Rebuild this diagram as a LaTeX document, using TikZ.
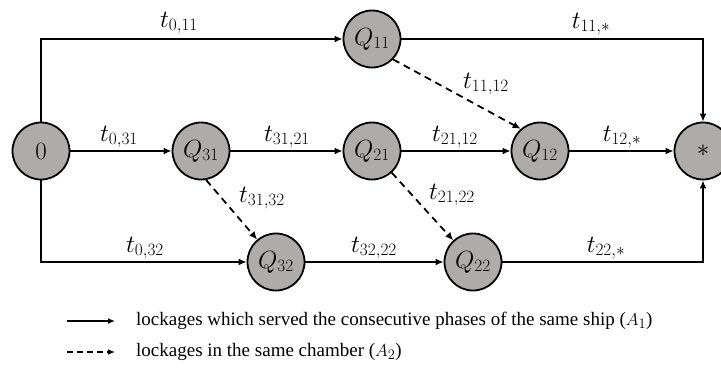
\documentclass[tikz,border=0pt]{standalone}
\usepackage{fontspec}
\setmainfont{Liberation Serif}
\usetikzlibrary{arrows.meta}
\DeclareMathSizes{24}{24}{18}{14}
\definecolor{nodegray}{RGB}{175,171,171}
\begin{document}
\begin{tikzpicture}[x=1pt,y=-1pt,
  st/.style={circle,draw=black,line width=1.8pt,fill=nodegray,minimum size=57pt,inner sep=0pt,font=\fontsize{24}{28}\selectfont},
  arr/.style={line width=1.8pt,-{Latex[length=8pt,width=7pt]}},
  darr/.style={arr,dash pattern=on 7pt off 5pt},
  lab/.style={font=\fontsize{24}{28}\selectfont,inner sep=0pt},
  leg/.style={font=\fontsize{19}{22}\selectfont,anchor=west,inner sep=0pt}]
\useasboundingbox (0,0) rectangle (721,376);
\node[st] (n0) at (41,151) {$0$};
\node[st] (q31) at (201,151) {$Q_{31}$};
\node[st] (q21) at (372,151) {$Q_{21}$};
\node[st] (q12) at (540,151) {$Q_{12}$};
\node[st] (star) at (703,151) {$*$};
\node[st] (q11) at (372,39) {$Q_{11}$};
\node[st] (q32) at (276,262) {$Q_{32}$};
\node[st] (q22) at (473,262) {$Q_{22}$};
\draw[arr] (n0.north) |- (q11.west);
\draw[arr] (n0.south) |- (q32.west);
\draw[arr] (q11.east) -| (star.north);
\draw[arr] (q22.east) -| (star.south);
\draw[arr] (n0) -- (q31);
\draw[arr] (q31) -- (q21);
\draw[arr] (q21) -- (q12);
\draw[arr] (q12) -- (star);
\draw[arr] (q32) -- (q22);
\draw[darr] (q11.-44) -- (q12.131);
\draw[darr] (q31.-80) -- (q32.130);
\draw[darr] (q21) -- (q22);
\node[lab] (l1) at (179,23) {$t_{0,11}$};
\node[lab] (l2) at (591,24) {$t_{11,*}$};
\node[lab] (l3) at (119,137) {$t_{0,31}$};
\node[lab] (l4) at (287,137) {$t_{31,21}$};
\node[lab] (l5) at (455,137) {$t_{21,12}$};
\node[lab] (l6) at (622,137) {$t_{12,*}$};
\node[lab] (l7) at (486,84) {$t_{11,12}$};
\node[lab] (l8) at (262,198) {$t_{31,32}$};
\node[lab] (l9) at (452,195) {$t_{21,22}$};
\node[lab] (l10) at (145,248) {$t_{0,32}$};
\node[lab] (l11) at (374,248) {$t_{32,22}$};
\node[lab] (l12) at (606,248) {$t_{22,*}$};
\coordinate (a1) at (67,321);
\coordinate (b1) at (115,321);
\coordinate (a2) at (67,352);
\coordinate (b2) at (115,352);
\draw[line width=1.5pt,-{Latex[length=7pt,width=6pt]}] (a1) -- (b1);
\draw[line width=1.5pt,dash pattern=on 6pt off 4pt,-{Latex[length=7pt,width=6pt]}] (a2) -- (b2);
\node[leg] (t1) at (136,321) {lockages which served the consecutive phases of the same ship ($A_1$)};
\node[leg] (t2) at (136,352) {lockages in the same chamber ($A_2$)};
\end{tikzpicture}
\end{document}
